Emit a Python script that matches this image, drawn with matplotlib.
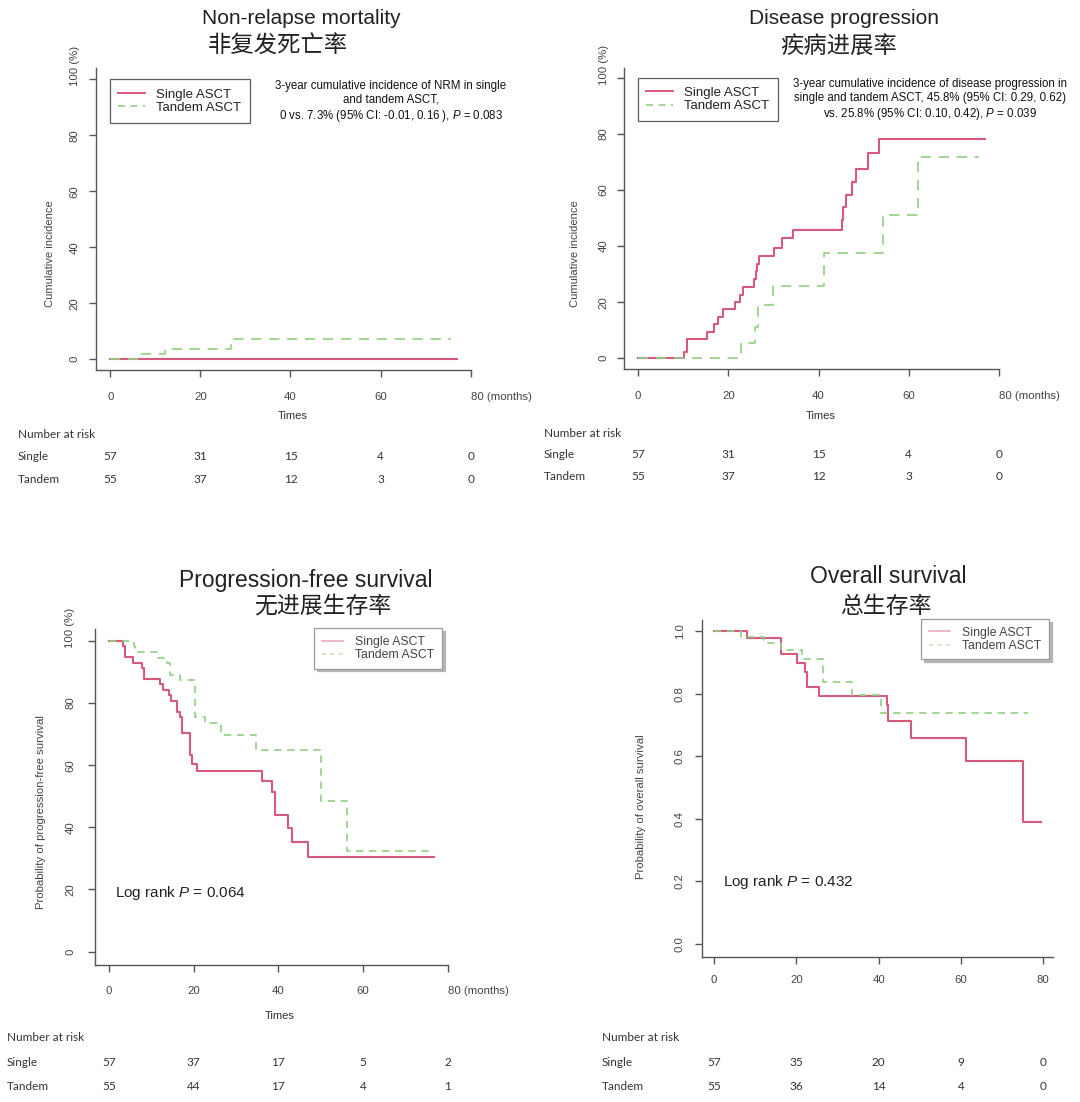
import matplotlib
matplotlib.use("Agg")
import matplotlib.pyplot as plt
from matplotlib import transforms
from matplotlib.lines import Line2D

plt.rcParams['font.family'] = ['Liberation Sans', 'DejaVu Sans']
plt.rcParams['mathtext.fontset'] = 'custom'
plt.rcParams['mathtext.rm'] = 'Liberation Sans'
plt.rcParams['mathtext.it'] = 'Liberation Sans:italic'
plt.rcParams['lines.scale_dashes'] = False

# ---------------- data ----------------
month_ticks = [0, 20, 40, 60, 80]
pct_ticks = [0, 20, 40, 60, 80, 100]
prob_ticks = [0.0, 0.2, 0.4, 0.6, 0.8, 1.0]
risk_times = [0, 20, 40, 60, 80]
legend_labels = ['Single ASCT', 'Tandem ASCT']
group_labels = ['Single', 'Tandem']

# Non-relapse mortality (cumulative incidence, %)
nrm_single_t = [0, 77.0]
nrm_single_y = [0, 0]
nrm_tandem_t = [0, 6.5, 12.1, 26.9, 75.6]
nrm_tandem_y = [0, 1.8, 3.6, 7.3, 7.3]

# Disease progression (cumulative incidence, %)
dp_single_t = [0, 10.2, 10.9, 15.3, 16.8, 17.8, 18.8, 21.5, 22.6, 23.2, 25.7, 26.1, 26.4,
               26.9, 30.1, 32.0, 34.3, 45.1, 45.4, 46.1, 47.5, 48.2, 51.0, 53.5, 76.9]
dp_single_y = [0, 2.1, 7.0, 9.5, 12.1, 14.8, 17.5, 20.2, 22.6, 25.3, 28.3, 31.0, 33.6,
               36.5, 39.4, 42.8, 45.7, 49.3, 54.0, 58.2, 62.9, 67.3, 73.1, 78.2, 78.2]
dp_tandem_t = [0, 22.8, 25.9, 26.6, 30.0, 41.3, 54.3, 62.1, 75.6]
dp_tandem_y = [0, 5.6, 11.1, 19.0, 25.8, 37.4, 51.1, 71.9, 71.9]

# Progression-free survival (%)
pfs_single_t = [0, 3.3, 3.8, 5.6, 7.8, 8.3, 12.1, 12.7, 14.3, 14.8, 16.2, 16.7, 17.2,
                19.2, 19.6, 20.9, 36.1, 38.5, 39.2, 42.4, 43.2, 47.0, 76.8]
pfs_single_y = [100, 98.2, 94.7, 92.9, 91.2, 87.7, 86.0, 84.2, 82.5, 80.7, 77.2, 75.4, 70.2,
                63.2, 60.5, 58.2, 54.8, 51.4, 44.0, 39.7, 35.3, 30.3, 30.3]
pfs_tandem_t = [0, 5.9, 6.2, 11.7, 13.8, 14.4, 16.9, 20.4, 22.6, 26.5, 34.8, 50.2, 56.2, 75.7]
pfs_tandem_y = [100, 98.2, 96.4, 94.5, 92.7, 89.1, 87.3, 75.5, 73.4, 69.7, 64.9, 48.6, 32.4, 32.4]

# Overall survival (probability)
os_single_t = [0, 8.1, 16.2, 20.1, 22.1, 22.6, 25.6, 42.1, 42.4, 47.8, 61.2, 75.1, 79.6]
os_single_y = [1.0, 0.977, 0.926, 0.899, 0.870, 0.820, 0.792, 0.765, 0.712, 0.659, 0.585, 0.391, 0.391]
os_tandem_t = [0, 6.5, 12.1, 16.3, 21.5, 26.4, 33.6, 40.5, 76.3]
os_tandem_y = [1.0, 0.982, 0.963, 0.939, 0.910, 0.838, 0.796, 0.739, 0.739]

# Numbers at risk
risk_nrm_single = [57, 31, 15, 4, 0]
risk_nrm_tandem = [55, 37, 12, 3, 0]
risk_pfs_single = [57, 37, 17, 5, 2]
risk_pfs_tandem = [55, 44, 17, 4, 1]
risk_os_single = [57, 35, 20, 9, 0]
risk_os_tandem = [55, 36, 14, 4, 0]

# ---------------- style ----------------
W, H, DPI = 1080, 1102, 100
PINK = '#d65a7c'
GREEN = '#92d083'
PINK_L = '#e9a3b6'
GREEN_L = '#c2e6b8'
AX_COL = '#555555'
TXT = '#222222'
CJK = ['Noto Sans CJK SC', 'DejaVu Sans']
RISK_FONT = ['Lato', 'DejaVu Sans']

fig = plt.figure(figsize=(W / DPI, H / DPI), dpi=DPI)
fig.patch.set_facecolor('white')


def ftext(x, y, s, **kw):
    return fig.text(x / W, 1 - y / H, s, **kw)


def make_axes(box, xlim, ylim):
    l, r, t, b = box
    ax = fig.add_axes([l / W, 1 - b / H, (r - l) / W, (b - t) / H])
    ax.set_xlim(*xlim)
    ax.set_ylim(*ylim)
    ax.patch.set_alpha(0)
    for s in ['top', 'right']:
        ax.spines[s].set_visible(False)
    for s in ['left', 'bottom']:
        ax.spines[s].set_color(AX_COL)
        ax.spines[s].set_linewidth(1.0)
    return ax


def style_ticks(ax, xticks, xlabels, yticks, ylabels, xpad, ypad):
    ax.set_xticks(xticks)
    ax.set_xticklabels(xlabels)
    ax.set_yticks(yticks)
    ax.set_yticklabels(ylabels)
    ax.tick_params(axis='both', direction='out', length=5, width=1.0, color=AX_COL,
                   labelcolor='#444444', labelsize=8.2)
    ax.tick_params(axis='x', pad=xpad)
    ax.tick_params(axis='y', pad=ypad)
    for lab in ax.get_yticklabels():
        lab.set_rotation(90)
        lab.set_va('center')
        lab.set_ha('right')


def months_label(ax, xpad):
    ax.annotate('80 (months)', xy=(80, 0), xycoords=('data', 'axes fraction'),
                xytext=(0, -(5 + xpad)), textcoords='offset points',
                ha='left', va='top', fontsize=8.2, color='#444444')


def pct_label(ax, ypad):
    ax.annotate('100 (%)', xy=(0, 100), xycoords=('axes fraction', 'data'),
                xytext=(-(5 + ypad), -5.0), textcoords='offset points',
                ha='right', va='bottom', rotation=90, fontsize=8.2, color='#444444')


def risk_table(ax, xl, y_head, y_s, y_t, single, tandem):
    tr = transforms.blended_transform_factory(ax.transData, fig.transFigure)
    kw = dict(fontsize=8.5, color='#333333', family=RISK_FONT, va='center')
    ftext(xl, y_head, 'Number at risk', ha='left', **kw)
    ftext(xl, y_s, group_labels[0], ha='left', **kw)
    ftext(xl, y_t, group_labels[1], ha='left', **kw)
    for t, n in zip(risk_times, single):
        ax.text(t, 1 - y_s / H, str(n), transform=tr, ha='center', **kw)
    for t, n in zip(risk_times, tandem):
        ax.text(t, 1 - y_t / H, str(n), transform=tr, ha='center', **kw)


def add_legend(ax, x, y, fontsize, light=False):
    if light:
        h1 = Line2D([], [], color=PINK_L, lw=1.1)
        h2 = Line2D([], [], color=GREEN_L, lw=1.1, dashes=(3, 3))
        col = '#444444'
    else:
        h1 = Line2D([], [], color=PINK, lw=1.4)
        h2 = Line2D([], [], color=GREEN, lw=1.2, dashes=(5, 4))
        col = '#222222'
    leg = ax.legend([h1, h2], legend_labels, loc='upper left',
                    bbox_to_anchor=(x / W, 1 - y / H), bbox_transform=fig.transFigure,
                    borderaxespad=0, frameon=True, fancybox=False,
                    edgecolor='#333333' if not light else '#999999',
                    fontsize=fontsize, handlelength=2.0 if not light else 1.75,
                    handletextpad=0.85 if not light else 1.0,
                    borderpad=0.68 if not light else 0.62, labelspacing=0.1,
                    shadow={'color': '#b0b0b0', 'alpha': 0.9} if light else False)
    leg.get_frame().set_linewidth(0.9)
    for t in leg.get_texts():
        t.set_color(col)
    return leg


ANN_KW = dict(ha='center', va='center', fontsize=8.3, color='#111111', linespacing=1.22)

# ================= Panel 1: Non-relapse mortality =================
ax1 = make_axes((96.4, 470.7, 68.3, 370.0), (-3.06, 80), (-3.82, 103.9))
ax1.step(nrm_single_t, nrm_single_y, where='post', color=PINK, lw=1.5)
ax1.step(nrm_tandem_t, nrm_tandem_y, where='post', color=GREEN, lw=1.2, dashes=(7.4, 5.5))
style_ticks(ax1, month_ticks, ['0', '20', '40', '60', ''], pct_ticks,
            ['0', '20', '40', '60', '80', ''], xpad=11.0, ypad=7.1)
months_label(ax1, 11.0)
pct_label(ax1, 7.1)
add_legend(ax1, 109.5, 79.3, 9.5)
ftext(301.3, 19, 'Non-relapse mortality', ha='center', va='center', fontsize=15, color=TXT)
ftext(277.5, 46, '非复发死亡率', ha='center', va='center', fontsize=16.8, color=TXT, family=CJK)
ftext(49.9, 253.3, 'Cumulative incidence', ha='center', va='center', rotation=90,
      fontsize=8, color='#444444')
ftext(292.4, 416, 'Times', ha='center', va='center', fontsize=8, color='#333333')
ftext(391, 102, '3-year cumulative incidence of NRM in single\nand tandem ASCT,\n'
      '0 vs. 7.3% (95% CI: -0.01, 0.16 ), $P$ = 0.083', **ANN_KW)
risk_table(ax1, 17.9, 435, 456.7, 479.3, risk_nrm_single, risk_nrm_tandem)

# ================= Panel 2: Disease progression =================
ax2 = make_axes((624.4, 999.0, 68.3, 369.0), (-3.04, 80), (-3.81, 103.35))
ax2.step(dp_single_t, dp_single_y, where='post', color=PINK, lw=1.5)
ax2.step(dp_tandem_t, dp_tandem_y, where='post', color=GREEN, lw=1.2, dashes=(7.4, 5.5))
style_ticks(ax2, month_ticks, ['0', '20', '40', '60', ''], pct_ticks,
            ['0', '20', '40', '60', '80', ''], xpad=11.0, ypad=6.4)
months_label(ax2, 11.0)
pct_label(ax2, 6.4)
add_legend(ax2, 637.5, 77.7, 9.5)
ftext(843.9, 18.5, 'Disease progression', ha='center', va='center', fontsize=15, color=TXT)
ftext(838.7, 46, '疾病进展率', ha='center', va='center', fontsize=16.8, color=TXT, family=CJK)
ftext(575.5, 253.3, 'Cumulative incidence', ha='center', va='center', rotation=90,
      fontsize=8, color='#444444')
ftext(820.3, 416, 'Times', ha='center', va='center', fontsize=8, color='#333333')
ftext(930.0, 100, '3-year cumulative incidence of disease progression in\n'
      'single and tandem ASCT, 45.8% (95% CI: 0.29, 0.62)\n'
      'vs. 25.8% (95% CI: 0.10, 0.42), $P$ = 0.039', **ANN_KW)
risk_table(ax2, 544.1, 433.3, 455, 476.7, risk_nrm_single, risk_nrm_tandem)

# ================= Panel 3: Progression-free survival =================
ax3 = make_axes((95.4, 447.7, 629.3, 965.0), (-3.16, 80), (-4.3, 103.7))
ax3.step(pfs_single_t, pfs_single_y, where='post', color=PINK, lw=1.5)
ax3.step(pfs_tandem_t, pfs_tandem_y, where='post', color=GREEN, lw=1.2, dashes=(5.3, 4.1))
style_ticks(ax3, month_ticks, ['0', '20', '40', '60', ''], pct_ticks,
            ['0', '20', '40', '60', '80', ''], xpad=10.3, ypad=9.4)
months_label(ax3, 10.3)
pct_label(ax3, 9.4)
add_legend(ax3, 314, 628.3, 8.8, light=True)
ftext(306.1, 580.7, 'Progression-free survival', ha='center', va='center', fontsize=16.5, color=TXT)
ftext(322.8, 606.7, '无进展生存率', ha='center', va='center', fontsize=16.5, color=TXT, family=CJK)
ftext(40.6, 811.7, 'Probability of progression-free survival', ha='center', va='center',
      rotation=90, fontsize=8.2, color='#444444')
ftext(280.1, 1016, 'Times', ha='center', va='center', fontsize=8, color='#333333')
ftext(115.4, 893.3, 'Log rank $P$ = 0.064', ha='left', va='center', fontsize=11, color='#222222')
risk_table(ax3, 6.9, 1037.3, 1062.7, 1086.7, risk_pfs_single, risk_pfs_tandem)

# ================= Panel 4: Overall survival =================
ax4 = make_axes((701.7, 1053.0, 620.0, 956.7), (-2.99, 82.4), (-0.0406, 1.035))
ax4.step(os_single_t, os_single_y, where='post', color=PINK, lw=1.5)
ax4.step(os_tandem_t, os_tandem_y, where='post', color=GREEN, lw=1.2, dashes=(5.3, 4.1))
style_ticks(ax4, month_ticks, [str(v) for v in month_ticks], prob_ticks,
            ['%.1f' % v for v in prob_ticks], xpad=8.0, ypad=7.1)
add_legend(ax4, 921, 619, 8.8, light=True)
ftext(888.7, 576.7, 'Overall survival', ha='center', va='center', fontsize=16.5, color=TXT)
ftext(885.8, 606.7, '总生存率', ha='center', va='center', fontsize=16.5, color=TXT, family=CJK)
ftext(641, 806.7, 'Probability of overall survival', ha='center', va='center',
      rotation=90, fontsize=8.2, color='#444444')
ftext(723.3, 881.7, 'Log rank $P$ = 0.432', ha='left', va='center', fontsize=11, color='#222222')
risk_table(ax4, 601.7, 1037.3, 1062.7, 1086.7, risk_os_single, risk_os_tandem)

fig.savefig('out.png', dpi=DPI, facecolor='white')
